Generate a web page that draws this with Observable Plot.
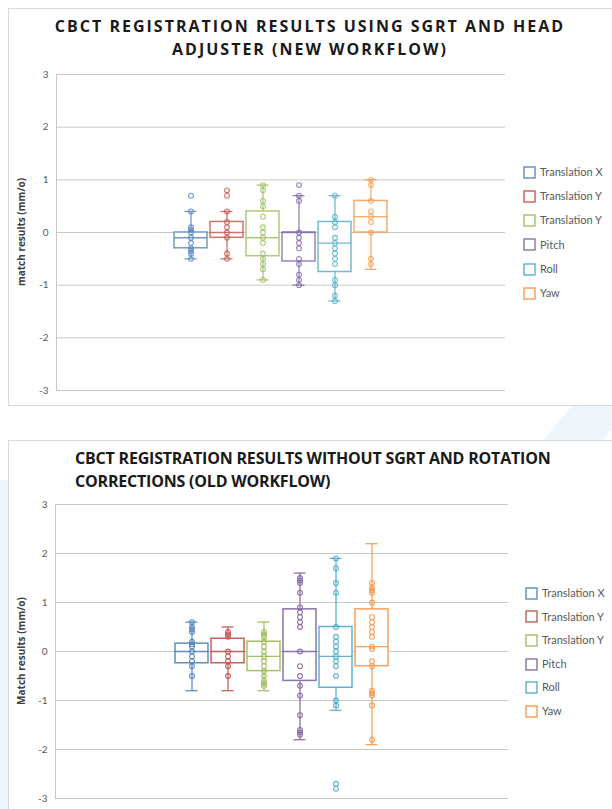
<!DOCTYPE html>
<html>
<head>
<meta charset="utf-8">
<script src="https://cdn.jsdelivr.net/npm/d3@7"></script>
<script src="https://cdn.jsdelivr.net/npm/@observablehq/plot@0.6"></script>
<style>
  html, body { margin: 0; padding: 0; background: #ffffff; }
  body { width: 612px; height: 809px; position: relative; overflow: hidden; font-family: "Lato", sans-serif; }
  .frame { position: absolute; border: 1px solid #d9d9d9; background: #ffffff; box-sizing: border-box; }
  .title1 { position: absolute; left: 0; width: 620px; top: 15px; text-align: center; font-family: "Open Sans", sans-serif; font-weight: 700; font-size: 16px; letter-spacing: 2px; line-height: 23px; color: #1a1a1a; }
  .title2 { position: absolute; left: 75px; top: 447px; font-family: "Open Sans", sans-serif; font-weight: 700; font-size: 16px; letter-spacing: -0.2px; line-height: 23px; color: #1a1a1a; }
  .ylab { position: absolute; transform: translate(-50%, -50%) rotate(-90deg); white-space: nowrap; font-family: "Open Sans", sans-serif; font-weight: 700; font-size: 10px; color: #404040; }
  .chart { position: absolute; left: 0; }
  .legend { position: absolute; font-family: "Lato", sans-serif; font-size: 11px; color: #595959; }
  .legend .row { position: absolute; left: 0; white-space: nowrap; height: 14px; line-height: 14px; }
  .legend svg { vertical-align: middle; margin-right: 4px; position: relative; top: -1px; }
  .deco { position: absolute; background: #eef5fb; }
</style>
</head>
<body>
<div class="deco" style="left:0; top:480px; width:10px; height:329px;"></div>
<div class="deco" style="left:560px; top:400px; width:60px; height:40px; transform: skewX(-40deg);"></div>
<div class="frame" style="left:8px; top:8px; width:620px; height:398px;"></div>
<div class="frame" style="left:8px; top:440px; width:620px; height:400px;"></div>

<div class="title1">CBCT REGISTRATION RESULTS USING SGRT AND HEAD<br>ADJUSTER (NEW WORKFLOW)</div>
<div class="title2">CBCT REGISTRATION RESULTS WITHOUT SGRT AND ROTATION<br>CORRECTIONS (OLD WORKFLOW)</div>
<div class="ylab" style="left:21px; top:232px;">match results (mm/o)</div>
<div class="ylab" style="left:21px; top:651px;">Match results (mm/o)</div>

<div id="chart1" class="chart" style="top:60px;"></div>
<div id="chart2" class="chart" style="top:490px;"></div>
<div id="legend1" class="legend" style="left:523px; top:165px;"></div>
<div id="legend2" class="legend" style="left:525px; top:586px;"></div>

<script>
// ---- shared categories ----
const series = ["tx", "ty", "tz", "pitch", "roll", "yaw"];
const seriesLabels = ["Translation X", "Translation Y", "Translation Y", "Pitch", "Roll", "Yaw"];
const colors = ["#4f81bd", "#c0504d", "#9bbb59", "#8064a2", "#4bacc6", "#f79646"];
const yTicks = [-3, -2, -1, 0, 1, 2, 3];

// ---- NEW workflow (top chart) box statistics ----
const newQ1 = [-0.3, -0.1, -0.45, -0.55, -0.75, 0.0];
const newMedian = [-0.1, 0.0, -0.1, 0.0, -0.2, 0.3];
const newQ3 = [0.0, 0.2, 0.4, 0.0, 0.2, 0.6];
const newLow = [-0.5, -0.5, -0.9, -1.0, -1.3, -0.7];
const newHigh = [0.4, 0.4, 0.9, 0.7, 0.7, 1.0];
// ---- NEW workflow points ----
const newTX = [0.7, 0.4, 0.1, 0.05, 0.0, -0.1, -0.2, -0.3, -0.35, -0.4, -0.5];
const newTY = [0.8, 0.7, 0.4, 0.2, 0.1, 0.0, -0.1, -0.4, -0.5];
const newTZ = [0.9, 0.8, 0.6, 0.5, 0.3, 0.1, 0.0, -0.1, -0.2, -0.4, -0.5, -0.6, -0.7, -0.9];
const newPitch = [0.9, 0.7, 0.6, 0.0, -0.1, -0.2, -0.3, -0.5, -0.6, -0.8, -0.9, -1.0];
const newRoll = [0.7, 0.3, 0.2, 0.1, -0.1, -0.2, -0.3, -0.4, -0.5, -0.6, -0.9, -1.0, -1.2, -1.3];
const newYaw = [1.0, 0.9, 0.6, 0.4, 0.3, 0.2, 0.0, -0.5, -0.6];

// ---- OLD workflow (bottom chart) box statistics ----
const oldQ1 = [-0.24, -0.24, -0.4, -0.6, -0.74, -0.3];
const oldMedian = [0.0, 0.0, -0.1, 0.0, -0.1, 0.1];
const oldQ3 = [0.16, 0.26, 0.2, 0.86, 0.5, 0.86];
const oldLow = [-0.8, -0.8, -0.8, -1.8, -1.2, -1.9];
const oldHigh = [0.6, 0.5, 0.6, 1.6, 1.9, 2.2];
// ---- OLD workflow points ----
const oldTX = [0.6, 0.5, 0.45, 0.4, 0.2, 0.15, 0.1, 0.0, -0.1, -0.2, -0.3, -0.5];
const oldTY = [0.4, 0.35, 0.3, 0.0, -0.1, -0.2, -0.3, -0.5];
const oldTZ = [0.4, 0.35, 0.3, 0.2, 0.1, 0.0, -0.1, -0.2, -0.3, -0.4, -0.5, -0.6, -0.65, -0.7];
const oldPitch = [1.5, 1.45, 1.4, 1.2, 0.9, 0.8, 0.7, 0.6, 0.5, 0.0, -0.3, -0.5, -0.7, -0.9, -1.3, -1.6, -1.65, -1.7];
const oldRoll = [1.9, 1.7, 1.4, 1.2, 0.5, 0.3, 0.2, 0.1, 0.0, -0.1, -0.2, -0.3, -0.5, -1.0, -1.1, -2.7, -2.8];
const oldYaw = [1.4, 1.3, 1.25, 1.2, 1.0, 0.7, 0.6, 0.5, 0.4, 0.3, 0.1, 0.05, -0.2, -0.3, -0.8, -0.85, -0.9, -1.1, -1.8];

function makeChart(cfg) {
  const boxes = series.map((s, i) => ({
    series: s, q1: cfg.q1[i], med: cfg.med[i], q3: cfg.q3[i], lo: cfg.lo[i], hi: cfg.hi[i]
  }));
  const pts = cfg.pts.flatMap((arr, i) => arr.map(v => ({series: series[i], value: v})));
  return Plot.plot({
    width: cfg.width,
    height: cfg.height,
    marginLeft: cfg.marginLeft,
    marginRight: cfg.marginRight,
    marginTop: cfg.marginTop,
    marginBottom: cfg.marginBottom,
    x: {type: "band", domain: series, paddingInner: 0.09, paddingOuter: 3.25, axis: null},
    y: {domain: [-3, 3], axis: null},
    color: {domain: series, range: colors},
    style: {fontFamily: "Lato, sans-serif", fontSize: "10px", color: "#595959", background: "transparent", overflow: "visible"},
    marks: [
      Plot.gridY(yTicks, {stroke: "#c8c8c8", strokeOpacity: 1, strokeWidth: 1}),
      Plot.axisY(yTicks, {tickSize: 0, tickPadding: 8, tickFormat: d => String(d), label: null, fill: "#595959", fontSize: 10}),
      Plot.frame({anchor: "left", stroke: "#c8c8c8", strokeOpacity: 1}),
      Plot.ruleX(boxes, {x: "series", y1: "lo", y2: "q1", stroke: "series", strokeWidth: 1.3, strokeOpacity: cfg.op}),
      Plot.ruleX(boxes, {x: "series", y1: "q3", y2: "hi", stroke: "series", strokeWidth: 1.3, strokeOpacity: cfg.op}),
      Plot.tickY(boxes, {x: "series", y: "lo", stroke: "series", strokeWidth: 1.3, insetLeft: 10.5, insetRight: 10.5, strokeOpacity: cfg.op}),
      Plot.tickY(boxes, {x: "series", y: "hi", stroke: "series", strokeWidth: 1.3, insetLeft: 10.5, insetRight: 10.5, strokeOpacity: cfg.op}),
      Plot.barY(boxes, {x: "series", y1: "q1", y2: "q3", fill: "#ffffff", stroke: "series", strokeWidth: 1.5, strokeOpacity: cfg.op}),
      Plot.tickY(boxes, {x: "series", y: "med", stroke: "series", strokeWidth: 1.3, strokeOpacity: cfg.op}),
      Plot.dot(pts, {x: "series", y: "value", r: 2.4, stroke: "series", fill: "none", strokeWidth: 1.1, strokeOpacity: cfg.op})
    ]
  });
}

document.getElementById("chart1").append(makeChart({
  q1: newQ1, med: newMedian, q3: newQ3, lo: newLow, hi: newHigh,
  pts: [newTX, newTY, newTZ, newPitch, newRoll, newYaw],
  width: 520, height: 345, marginLeft: 56, marginRight: 15, marginTop: 14, marginBottom: 15, op: 0.8
}));
document.getElementById("chart2").append(makeChart({
  q1: oldQ1, med: oldMedian, q3: oldQ3, lo: oldLow, hi: oldHigh,
  pts: [oldTX, oldTY, oldTZ, oldPitch, oldRoll, oldYaw],
  width: 523, height: 318, marginLeft: 55, marginRight: 15, marginTop: 14, marginBottom: 10, op: 0.9
}));

function makeLegend(id, spacing) {
  const el = document.getElementById(id);
  seriesLabels.forEach((lab, i) => {
    const row = document.createElement("div");
    row.className = "row";
    row.style.top = (i * spacing) + "px";
    const ns = "http://www.w3.org/2000/svg";
    const sw = document.createElementNS(ns, "svg");
    sw.setAttribute("width", "13");
    sw.setAttribute("height", "13");
    const r = document.createElementNS(ns, "rect");
    r.setAttribute("x", "1");
    r.setAttribute("y", "1");
    r.setAttribute("width", "11");
    r.setAttribute("height", "11");
    r.setAttribute("fill", "#ffffff");
    r.setAttribute("stroke", colors[i]);
    r.setAttribute("stroke-width", "1.3");
    sw.append(r);
    row.append(sw, document.createTextNode(lab));
    el.append(row);
  });
}
makeLegend("legend1", 24.2);
makeLegend("legend2", 23.6);
</script>
</body>
</html>
